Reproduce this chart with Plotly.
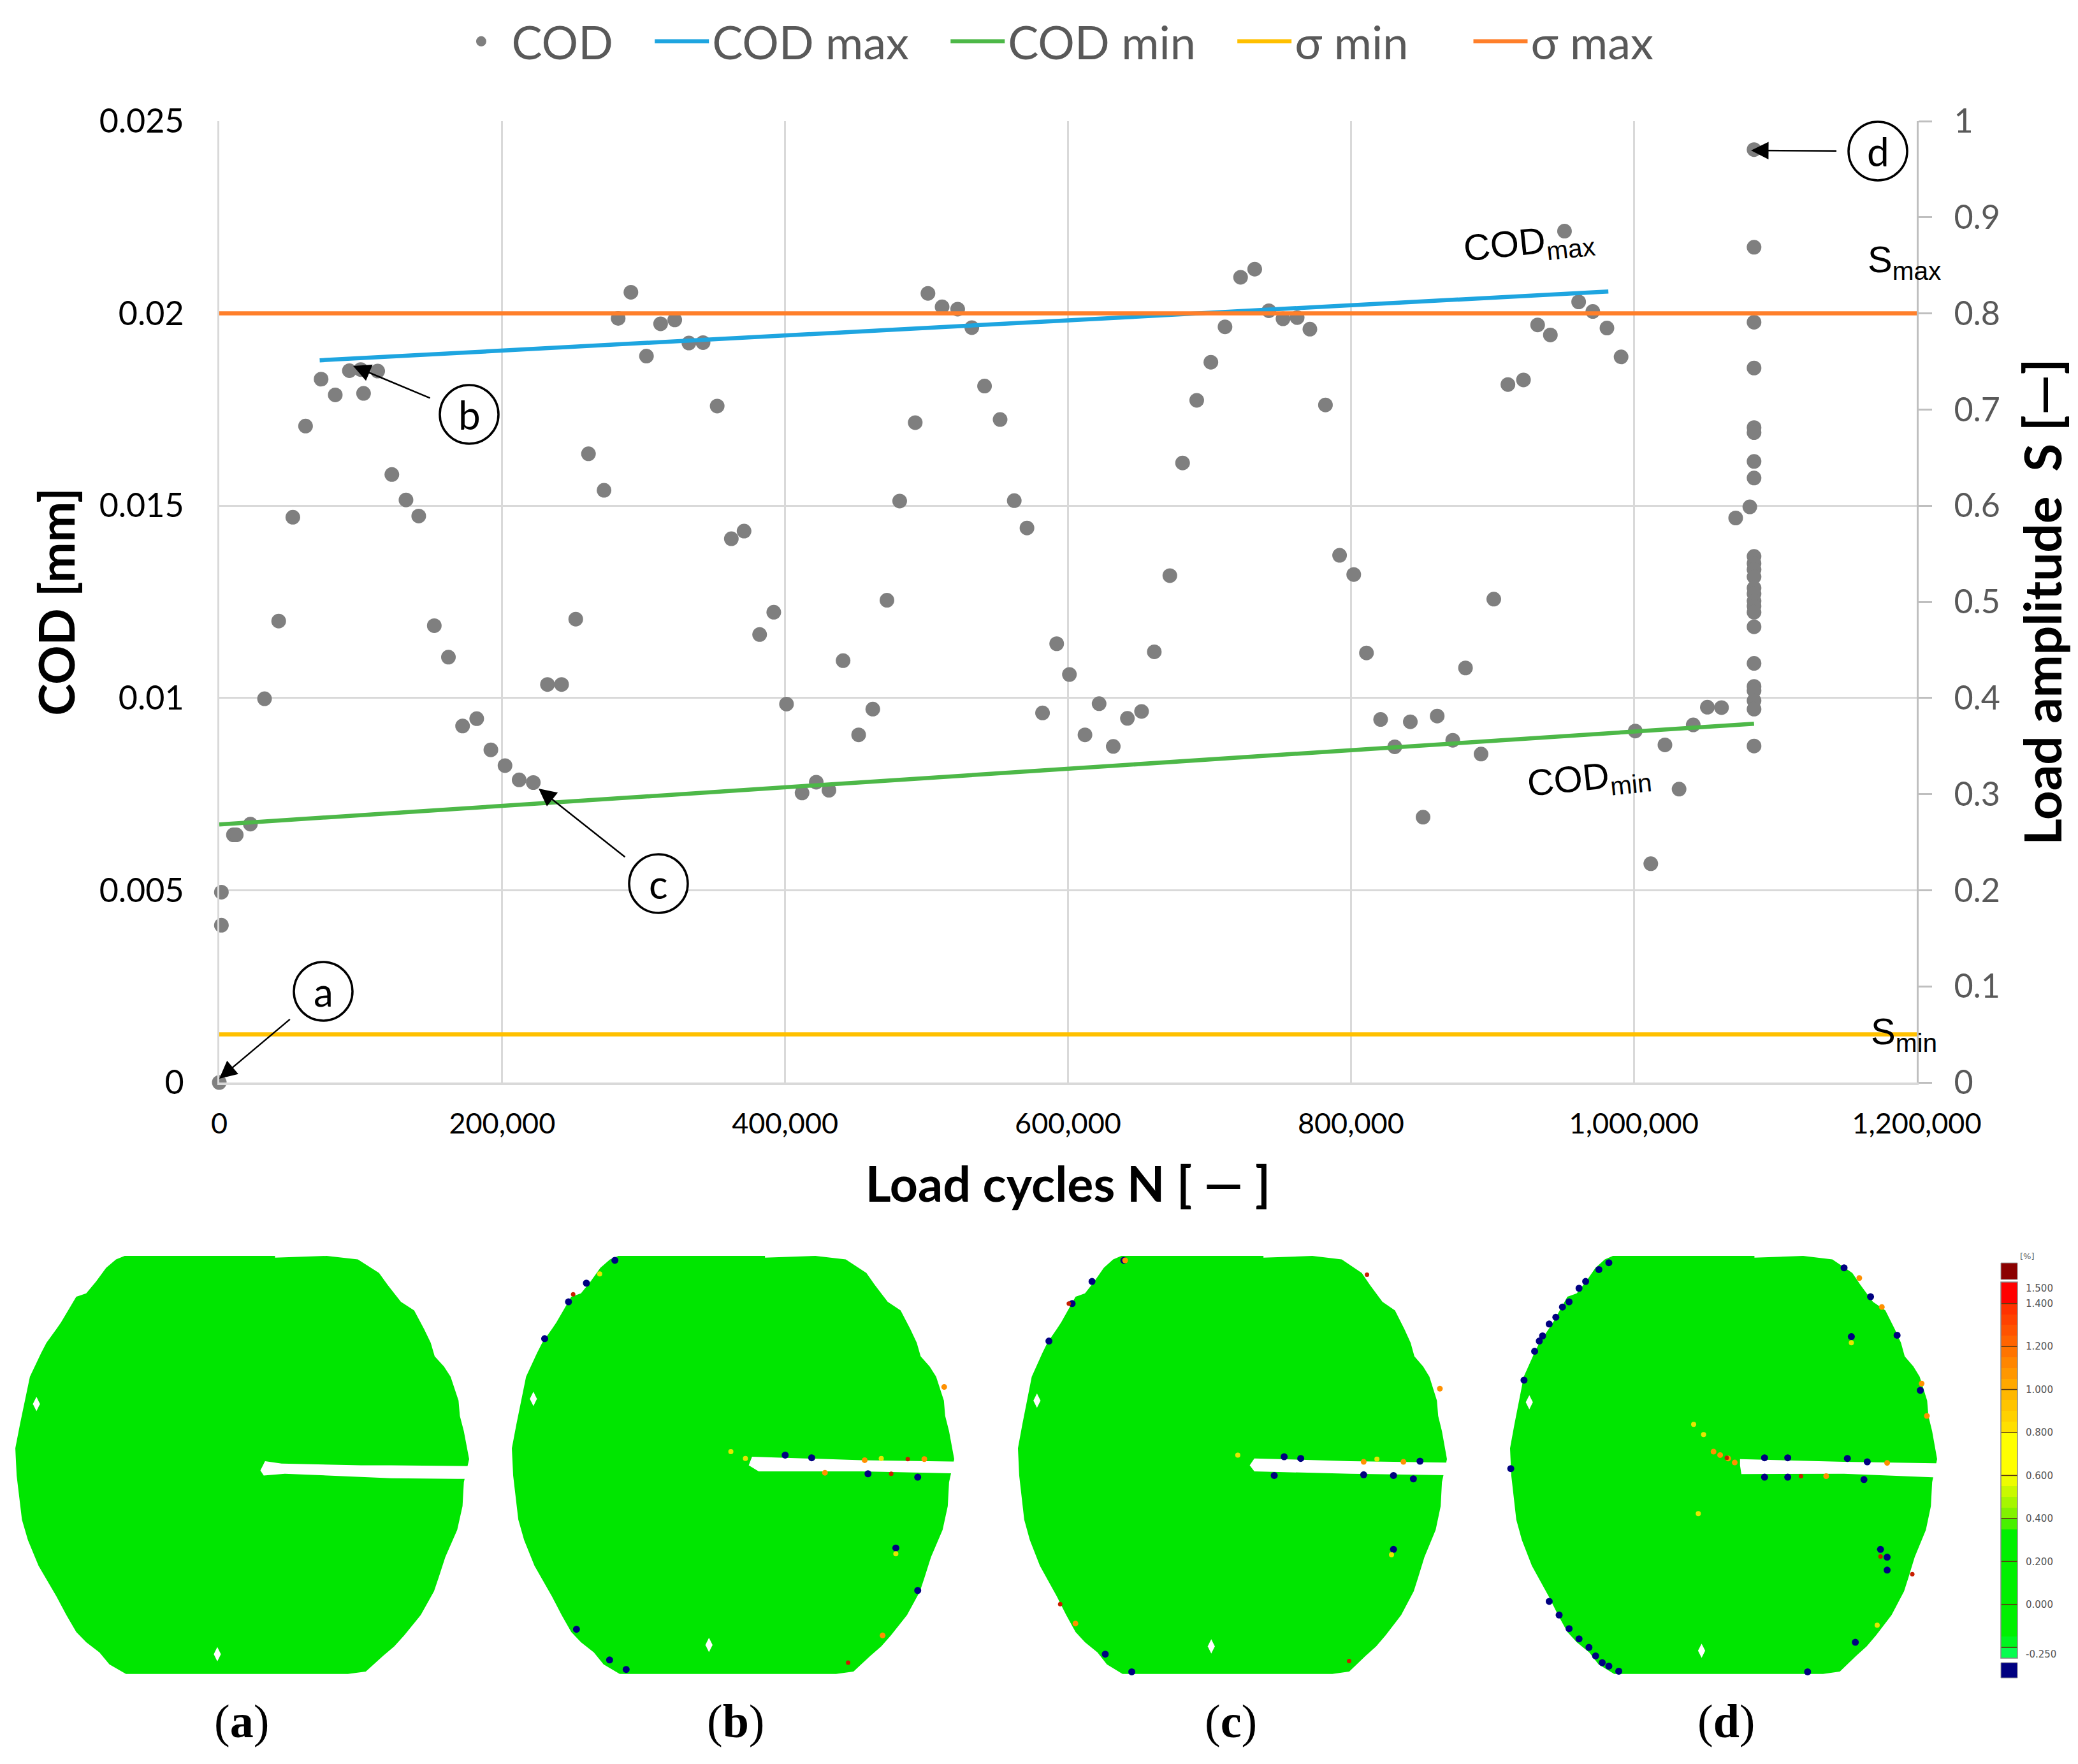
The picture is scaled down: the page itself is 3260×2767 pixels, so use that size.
import plotly.graph_objects as go

# values
COD_CYCLES = [
    0, 1500, 1500, 10000, 12000, 22000, 32000, 42000, 52000, 61000, 72000, 82000, 92000, 100000,
    102000, 112000, 122000, 132000, 141000, 152000, 162000, 172000, 182000, 192000, 202000,
    212000, 222000, 232000, 242000, 252000, 261000, 272000, 282000, 291000, 302000, 312000,
    322000, 332000, 342000, 352000, 362000, 371000, 382000, 392000, 401000, 412000, 422000,
    431000, 441000, 452000, 462000, 472000, 481000, 492000, 501000, 511000, 522000, 532000,
    541000, 552000, 562000, 571000, 582000, 592000, 601000, 612000, 622000, 632000, 642000,
    652000, 661000, 672000, 681000, 691000, 701000, 711000, 722000, 732000, 742000, 752000,
    762000, 771000, 782000, 792000, 802000, 811000, 821000, 831000, 842000, 851000, 861000,
    872000, 881000, 892000, 901000, 911000, 922000, 932000, 941000, 951000, 961000, 971000,
    981000, 991000, 1001000, 1012000, 1022000, 1032000, 1042000, 1052000, 1062000, 1072000,
    1082000, 1085000, 1085000, 1085000, 1085000, 1085000, 1085000, 1085000, 1085000, 1085000,
    1085000, 1085000, 1085000, 1085000, 1085000, 1085000, 1085000, 1085000, 1085000, 1085000,
    1085000, 1085000, 1085000, 1085000, 1085000, 1085000,
]
COD_VALUES = [
    0, 0.00409, 0.00495, 0.00644, 0.00644, 0.00672, 0.00998, 0.012, 0.0147, 0.01707, 0.01829,
    0.01788, 0.01851, 0.01854, 0.01792, 0.0185, 0.01581, 0.01515, 0.01473, 0.01188, 0.01106,
    0.00927, 0.00946, 0.00865, 0.00824, 0.00787, 0.0078, 0.01035, 0.01035, 0.01205, 0.01635,
    0.0154, 0.01987, 0.02055, 0.01889, 0.01973, 0.01983, 0.01923, 0.01924, 0.01759, 0.01414,
    0.01434, 0.01165, 0.01223, 0.00984, 0.00753, 0.00781, 0.0076, 0.01097, 0.00904, 0.00971,
    0.01254, 0.01512, 0.01716, 0.02052, 0.02017, 0.02011, 0.01963, 0.01811, 0.01724, 0.01513,
    0.01442, 0.00961, 0.01141, 0.01061, 0.00904, 0.00985, 0.00874, 0.00947, 0.00965, 0.0112,
    0.01318, 0.01611, 0.01774, 0.01873, 0.01965, 0.02094, 0.02115, 0.02007, 0.01986, 0.01989,
    0.01959, 0.01762, 0.01371, 0.01321, 0.01117, 0.00944, 0.00873, 0.00938, 0.0069, 0.00953,
    0.0089, 0.01078, 0.00854, 0.01257, 0.01815, 0.01827, 0.0197, 0.01944, 0.02214, 0.0203,
    0.02005, 0.01962, 0.01887, 0.00914, 0.00569, 0.00878, 0.00763, 0.0093, 0.00976, 0.00975,
    0.01468, 0.01497, 0.02426, 0.02172, 0.01977, 0.01858, 0.01703, 0.0169, 0.01615, 0.01572,
    0.01368, 0.0135, 0.01334, 0.01315, 0.01286, 0.01271, 0.01252, 0.01239, 0.01223, 0.01185,
    0.0109, 0.0103, 0.01019, 0.00993, 0.00971, 0.00875,
]
COD_MAX_CYCLES = [71000, 982000]
COD_MAX_VALUES = [0.01878, 0.02057]
COD_MIN_CYCLES = [0, 1085000]
COD_MIN_VALUES = [0.00671, 0.00933]
SIGMA_CYCLES = [0, 1200000]
SIGMA_MIN = [0.05, 0.05]
SIGMA_MAX = [0.8, 0.8]

COD_TICKS = [0, 0.005, 0.01, 0.015, 0.02, 0.025]
COD_TICK_LABELS = ["0", "0.005", "0.01", "0.015", "0.02", "0.025"]
S_TICKS = [0, 0.1, 0.2, 0.3, 0.4, 0.5, 0.6, 0.7, 0.8, 0.9, 1]
S_TICK_LABELS = ["0", "0.1", "0.2", "0.3", "0.4", "0.5", "0.6", "0.7", "0.8", "0.9", "1"]

# strain scale next to the four fields
BAR_LEVELS = [
    -0.225, -0.175, -0.125, -0.075, -0.025, 0.025, 0.075, 0.125, 0.175, 0.225, 0.275, 0.325,
    0.375, 0.425, 0.475, 0.525, 0.575, 0.625, 0.675, 0.725, 0.775, 0.825, 0.875, 0.925, 0.975,
    1.025, 1.075, 1.125, 1.175, 1.225, 1.275, 1.325, 1.375, 1.425, 1.475,
]
BAR_STOPS = [
    (-0.25, "#10ff60"), (-0.2, "#00fa40"), (-0.15, "#00f000"), (0.33, "#00f000"), (0.4, "#70f000"),
    (0.6, "#ffff00"), (0.78, "#ffff00"), (0.82, "#ffe000"), (1.0, "#ffb000"), (1.2, "#ff6c00"),
    (1.38, "#ff3000"), (1.42, "#ff0000"), (1.5, "#ff0000"),
]
BAR_LINES = [1.4, 1.2, 1.0, 0.8, 0.6, 0.4, 0.2, 0.0, -0.2]
BAR_TICKS = [1.47, 1.4, 1.2, 1.0, 0.8, 0.6, 0.4, 0.2, 0.0, -0.232]
BAR_TICK_LABELS = ["1.500", "1.400", "1.200", "1.000", "0.800", "0.600", "0.400", "0.200", "0.000", "-0.250"]

# field outline, traced from the first field (units of the 3x crop)
FIELD_OUTLINE = [
    (188, 75), (415, 75), (415, 80), (493, 75), (540, 85), (558, 108), (572, 125), (585, 160),
    (605, 210), (625, 235), (640, 290), (650, 330), (656, 370), (670, 400), (680, 430), (692, 500),
    (694, 545), (700, 590), (708, 672), (700, 740), (698, 810), (690, 880), (680, 925), (672, 960),
    (662, 1020), (655, 1060), (635, 1130), (610, 1190), (595, 1222), (578, 1250), (552, 1296),
    (525, 1303), (190, 1303), (165, 1275), (150, 1240), (130, 1210), (115, 1180), (100, 1130),
    (85, 1075), (58, 985), (42, 910), (33, 850), (25, 720), (23, 640), (30, 570), (40, 480),
    (45, 430), (62, 360), (70, 330), (85, 290), (92, 270), (115, 195), (130, 185), (145, 150),
    (160, 110), (175, 85), (188, 75),
]
# left and right edge of each field in pixels
FIELD_EDGES = [(23, 736), (802, 1497), (1596, 2270), (2368, 3039)]
FIELD_NAMES = ["a", "b", "c", "d"]
FIELD_LABEL_X = [379, 1154, 1931, 2708]

# crop offset (0 left crop, 1630 right crop) and points in crop units
NOTCHES = [
    (0, [(393, 705), (400, 678), (425, 685), (545, 690), (590, 690), (745, 693), (745, 730), (690, 730), (590, 728), (430, 715), (398, 720)]),
    (0, [(1130, 690), (1135, 665), (1185, 668), (1300, 675), (1470, 680), (1470, 715), (1300, 708), (1145, 708)]),
    (1630, [(318, 690), (325, 670), (470, 678), (650, 683), (650, 720), (470, 715), (325, 708)]),
    (1630, [(1058, 690), (1058, 672), (1215, 680), (1385, 685), (1385, 728), (1215, 715), (1060, 716)]),
]
HOLES = [
    (0, [(55, 510), (328, 1245), (805, 495), (1070, 1218), (1565, 500)]),
    (1630, [(260, 1222), (740, 505), (1000, 1235)]),
]
NAVY_SPOTS = [
    (0, [(928, 88), (885, 155), (858, 210), (822, 318), (1185, 660), (1225, 668), (1310, 715), (1385, 725),
         (1352, 933), (870, 1172), (920, 1262), (945, 1290), (1385, 1058)]),
    (1630, [(128, 88), (80, 150), (50, 215), (15, 325), (370, 665), (395, 670), (575, 678), (355, 720),
            (490, 718), (535, 720), (565, 730), (535, 937), (100, 1245), (140, 1297),
            (860, 95), (845, 115), (825, 150), (815, 170), (800, 210), (790, 225), (780, 255), (770, 275),
            (760, 310), (755, 325), (748, 355), (732, 440), (712, 700),
            (1215, 110), (1255, 195), (1295, 308), (1330, 470), (860, 1280), (850, 1270), (875, 1295), (840, 1250),
            (830, 1225), (815, 1200), (800, 1170), (785, 1130), (770, 1090), (1232, 1210), (1160, 1297),
            (1095, 668), (1130, 668), (1220, 670), (1250, 680), (1095, 725), (1130, 725), (1245, 732),
            (1270, 937), (1280, 960), (1280, 998), (1226, 312)]),
]
ORANGE_SPOTS = [
    (0, [(1305, 675), (1395, 672), (1245, 712), (1332, 1190), (1425, 460)]),
    (1630, [(130, 88), (605, 465), (550, 680), (490, 680), (55, 1155), (1188, 722), (1280, 683), (1238, 140),
            (1272, 225), (1332, 450), (1340, 545), (1018, 650), (1028, 660), (1040, 670), (1050, 682)]),
]
RED_SPOTS = [
    (0, [(865, 188), (1370, 672), (1345, 715), (1280, 1270)]),
    (1630, [(495, 130), (45, 215), (32, 1098), (468, 1265), (1150, 722), (1270, 958), (1318, 1010), (1038, 668)]),
]
YELLOW_SPOTS = [
    (0, [(905, 128), (1103, 650), (1125, 670), (1330, 670), (1352, 950)]),
    (1630, [(510, 672), (300, 660), (532, 953), (1265, 1160), (1226, 330), (988, 570), (1003, 600), (995, 832)]),
]

# circled letters: letter, circle centre, arrow tip (pixels)
CALLOUTS = [
    ("a", (507, 1555), (344, 1692)),
    ("b", (736, 650), (554, 574)),
    ("c", (1033, 1386), (845, 1237)),
    ("d", (2946, 237), (2747, 236)),
]
W, H = 3260, 2767
PLOT_L, PLOT_R, PLOT_T, PLOT_B = 344, 3007, 190, 1698
FONT = "Lato"
NBSP = "\u00a0"


def field_x(zx, left, right):
    return left + (zx - 22) / 686 * (right - left)


def crop_x(zx, offset):
    return offset + zx / 0.962


def crop_y(zy):
    return 1930 + zy / 1.873


def spots_trace(groups, color, size, symbol="circle"):
    xs, ys = [], []
    for offset, pts in groups:
        for zx, zy in pts:
            xs.append(crop_x(zx, offset))
            ys.append(crop_y(zy))
    return go.Scatter(x=xs, y=ys, xaxis="x3", yaxis="y3", mode="markers", showlegend=False,
                      hoverinfo="skip", marker=dict(color=color, size=size, symbol=symbol))


fig = go.Figure()

fig.add_trace(go.Scatter(x=COD_CYCLES, y=COD_VALUES, name="COD" + NBSP * 3, mode="markers", cliponaxis=False,
                         marker=dict(color="#7f7f7f", size=23)))
fig.add_trace(go.Scatter(x=COD_MAX_CYCLES, y=COD_MAX_VALUES, name="COD max" + NBSP * 3, mode="lines",
                         line=dict(color="#1ea5e0", width=6.5)))
fig.add_trace(go.Scatter(x=COD_MIN_CYCLES, y=COD_MIN_VALUES, name="COD min" + NBSP * 3, mode="lines",
                         line=dict(color="#4db848", width=6.5)))
fig.add_trace(go.Scatter(x=SIGMA_CYCLES, y=SIGMA_MIN, name="σ min" + NBSP * 5, mode="lines", yaxis="y2",
                         line=dict(color="#ffc000", width=6.5)))
fig.add_trace(go.Scatter(x=SIGMA_CYCLES, y=SIGMA_MAX, name="σ max", mode="lines", yaxis="y2",
                         line=dict(color="#ff7f2a", width=6.5)))

# the four strain fields
for (left, right), (offset, notch) in zip(FIELD_EDGES, NOTCHES):
    fig.add_trace(go.Scatter(
        x=[field_x(p[0], left, right) for p in FIELD_OUTLINE],
        y=[crop_y(p[1]) for p in FIELD_OUTLINE],
        xaxis="x3", yaxis="y3", mode="lines", fill="toself", fillcolor="#00e600",
        line=dict(width=0, color="#00e600"), showlegend=False, hoverinfo="skip"))
    fig.add_trace(go.Scatter(
        x=[crop_x(p[0], offset) for p in notch] + [crop_x(notch[0][0], offset)],
        y=[crop_y(p[1]) for p in notch] + [crop_y(notch[0][1])],
        xaxis="x3", yaxis="y3", mode="lines", fill="toself", fillcolor="white",
        line=dict(width=0, color="white"), showlegend=False, hoverinfo="skip"))

fig.add_trace(spots_trace(HOLES, "white", 16, "diamond-tall"))
fig.add_trace(spots_trace(NAVY_SPOTS, "#000080", 11))
fig.add_trace(spots_trace(ORANGE_SPOTS, "#ff9000", 9))
fig.add_trace(spots_trace(RED_SPOTS, "#c81e00", 7))
fig.add_trace(spots_trace(YELLOW_SPOTS, "#e6e600", 8))

fig.add_trace(go.Heatmap(
    z=[[v] for v in BAR_LEVELS], y=BAR_LEVELS, xaxis="x4", yaxis="y4", showscale=False,
    zmin=-0.25, zmax=1.5, hoverinfo="skip",
    colorscale=[[(v + 0.25) / 1.75, c] for v, c in BAR_STOPS]))

shapes = []
for v in BAR_LINES:
    shapes.append(dict(type="line", xref="x4 domain", yref="y4", x0=0, x1=1, y0=v, y1=v,
                       line=dict(color="#5a3a10", width=1.5)))
shapes.append(dict(type="rect", xref="x3", yref="y3", x0=3139, x1=3165, y0=1981, y1=2007,
                   fillcolor="#8b0000", line=dict(color="#999999", width=1)))
shapes.append(dict(type="rect", xref="x3", yref="y3", x0=3139, x1=3165, y0=2608, y1=2632,
                   fillcolor="#000080", line=dict(color="#999999", width=1)))
shapes.append(dict(type="rect", xref="x3", yref="y3", x0=3139, x1=3165, y0=2011, y1=2601,
                   fillcolor="rgba(0,0,0,0)", line=dict(color="#888888", width=1.5)))

annotations = []
for letter, (cx, cy), (tx, ty) in CALLOUTS:
    shapes.append(dict(type="circle", xref="x3", yref="y3", x0=cx - 46, x1=cx + 46, y0=cy - 46, y1=cy + 46,
                       fillcolor="white", line=dict(color="black", width=3.5), layer="above"))
    annotations.append(dict(xref="x3", yref="y3", axref="x3", ayref="y3", x=tx, y=ty, ax=cx, ay=cy,
                            text=letter, showarrow=True, arrowhead=2, arrowsize=2.2, arrowwidth=2.5,
                            arrowcolor="black", startstandoff=46,
                            font=dict(family=FONT, size=62, color="black")))

for text, x, y, angle in [
    ("COD<sub>max</sub>", 2399, 383, -6),
    ("COD<sub>min</sub>", 2493, 1223, -6),
    ("S<sub>max</sub>", 2987, 411, 0),
    ("S<sub>min</sub>", 2987, 1622, 0),
]:
    annotations.append(dict(xref="x3", yref="y3", x=x, y=y, text=text, showarrow=False, textangle=angle,
                            font=dict(family="Liberation Sans", size=58, color="black")))

for name, x in zip(FIELD_NAMES, FIELD_LABEL_X):
    annotations.append(dict(xref="x3", yref="y3", x=x, y=2700, showarrow=False, text=f"(<b>{name}</b>)",
                            font=dict(family="Liberation Serif", size=74, color="black")))
annotations.append(dict(xref="x3", yref="y3", x=3180, y=1970, text="[%]", showarrow=False,
                        font=dict(family="DejaVu Sans", size=13, color="#555555")))

GRID = "#d9d9d9"
fig.update_layout(
    width=W,
    height=H,
    margin=dict(l=0, r=0, t=0, b=0),
    paper_bgcolor="white",
    plot_bgcolor="rgba(0,0,0,0)",
    font=dict(family=FONT, color="black"),
    shapes=shapes,
    annotations=annotations,
    legend=dict(
        orientation="h", x=0.217, xanchor="left", y=1 - 65 / H, yanchor="middle",
        itemwidth=85, font=dict(family=FONT, size=72, color="#595959"), bgcolor="rgba(0,0,0,0)",
    ),
    xaxis=dict(
        domain=[PLOT_L / W, PLOT_R / W], range=[0, 1200000], dtick=200000, tickformat=",d",
        showgrid=True, gridcolor=GRID, gridwidth=3, zeroline=False, showline=True, linecolor=GRID,
        linewidth=4, ticks="", ticklabelstandoff=22, tickfont=dict(family=FONT, size=45, color="black"),
        title=dict(text="<b>Load cycles N [ — ]</b>", standoff=45, font=dict(family=FONT, size=77, color="black")),
        automargin=False,
    ),
    yaxis=dict(
        domain=[1 - PLOT_B / H, 1 - PLOT_T / H], range=[0, 0.025], tickvals=COD_TICKS, ticktext=COD_TICK_LABELS,
        showgrid=True, gridcolor=GRID, gridwidth=3, zeroline=False, showline=True, linecolor=GRID,
        linewidth=3, ticks="", ticklabelstandoff=42, tickfont=dict(family=FONT, size=52, color="black"),
        title=dict(text="<b>COD [mm]</b>", standoff=14, font=dict(family=FONT, size=76, color="black")),
        automargin=False,
    ),
    yaxis2=dict(
        overlaying="y", side="right", range=[0, 1], tickvals=S_TICKS, ticktext=S_TICK_LABELS,
        showgrid=False, zeroline=False, showline=True, linecolor="#bfbfbf", linewidth=3,
        ticks="outside", ticklen=21, tickwidth=3, tickcolor="#bfbfbf", ticklabelstandoff=24,
        tickfont=dict(family=FONT, size=52, color="#595959"),
        title=dict(text="<b>Load amplitude  S [—]</b>", standoff=42, font=dict(family=FONT, size=80, color="black")),
        automargin=False,
    ),
    # full page axis in pixels for the fields and the callouts
    xaxis3=dict(domain=[0, 1], range=[0, W], visible=False, anchor="y3", fixedrange=True),
    yaxis3=dict(domain=[0, 1], range=[H, 0], visible=False, anchor="x3", fixedrange=True),
    xaxis4=dict(domain=[3139 / W, 3165 / W], visible=False, anchor="y4", fixedrange=True),
    yaxis4=dict(
        domain=[1 - 2601 / H, 1 - 2011 / H], range=[-0.25, 1.5], anchor="x4", side="right", tickvals=BAR_TICKS,
        ticktext=BAR_TICK_LABELS, ticks="", showgrid=False, zeroline=False, ticklabelstandoff=12,
        tickfont=dict(family="DejaVu Sans", size=15, color="#555555"), automargin=False, fixedrange=True,
    ),
)

fig.write_html("out.html", config=dict(displayModeBar=False), post_script="document.body.style.margin='0';")
